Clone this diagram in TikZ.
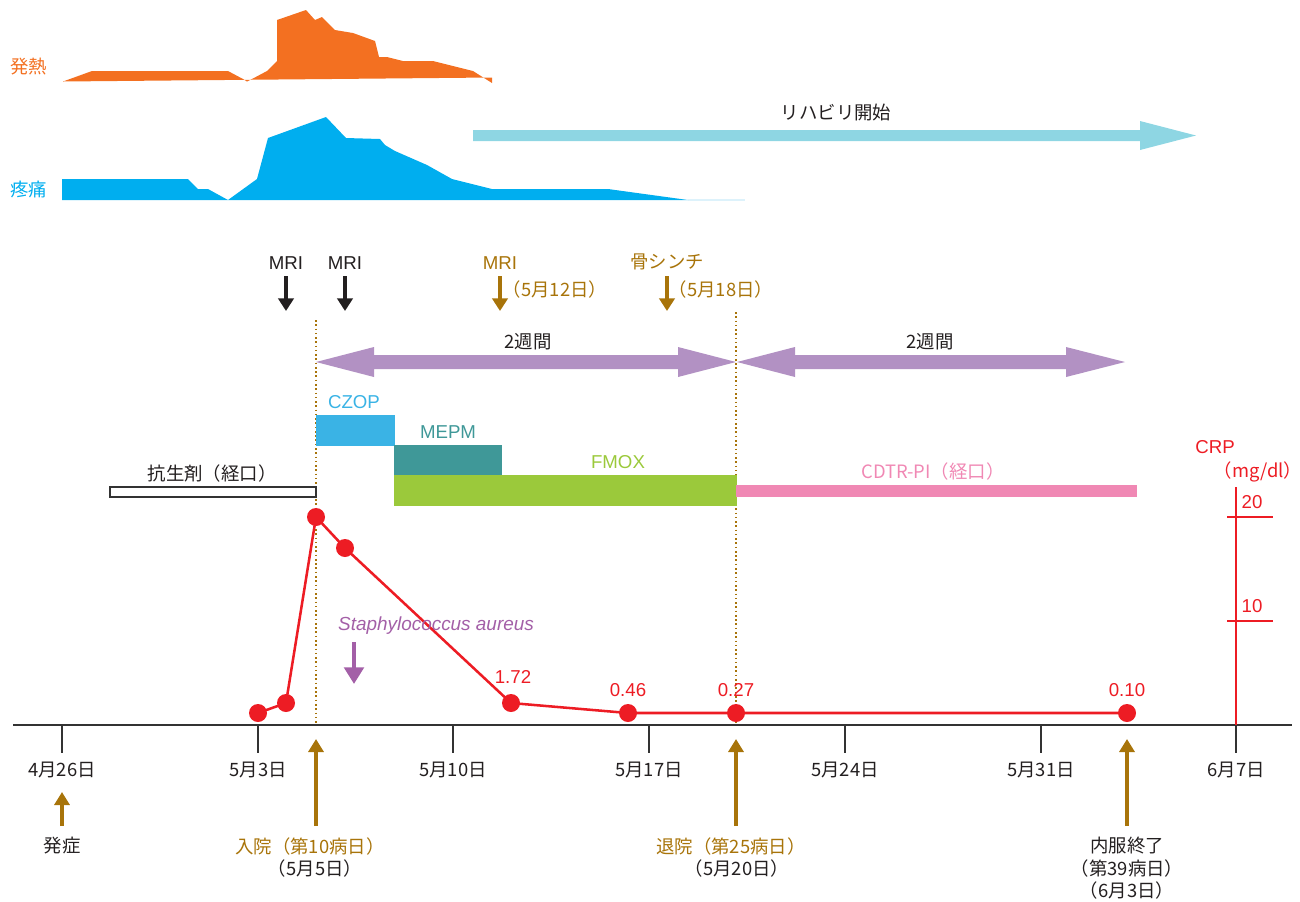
\documentclass[tikz,border=0pt]{standalone}
\usepackage{fontspec}
\setmainfont{Noto Sans CJK JP}
\newfontfamily\lat{Liberation Sans}
\usetikzlibrary{arrows.meta}
\definecolor{fever}{RGB}{243,112,33}
\definecolor{pain}{RGB}{0,174,239}
\definecolor{paintail}{RGB}{221,242,251}
\definecolor{rehab}{RGB}{142,214,227}
\definecolor{lav}{RGB}{178,145,195}
\definecolor{brn}{RGB}{168,116,10}
\definecolor{czop}{RGB}{58,179,229}
\definecolor{mepm}{RGB}{63,152,152}
\definecolor{fmox}{RGB}{155,201,59}
\definecolor{cdtr}{RGB}{240,136,180}
\definecolor{crp}{RGB}{237,28,36}
\definecolor{staph}{RGB}{163,95,167}
\definecolor{dark}{RGB}{35,31,32}
\definecolor{axisc}{RGB}{51,51,51}
\begin{document}
\begin{tikzpicture}[x=0.75pt,y=-0.75pt,
  txt/.style={inner sep=0pt, font=\fontsize{13.8}{16}\selectfont, text=dark},
  ltxt/.style={inner sep=0pt, font=\lat\fontsize{14}{16}\selectfont, text=dark},
  dot/.style={circle, fill=crp, minimum size=13.5pt, inner sep=0pt},
  downarr/.style={line width=3pt, -{Triangle[length=9.5pt,width=11.5pt]}},
  uparr/.style={line width=3.4pt, brn, -{Triangle[length=9.75pt,width=11.25pt]}},
  vline/.style={brn, line width=1.2pt, dotted},
]
\useasboundingbox (0,0) rectangle (1300,901);

% ---- fever curve
\fill[fever] (63,81.5) -- (92,71) -- (228,71) -- (243,79) -- (247,81.5) -- (252,79) -- (267,71) -- (277,61) -- (277,20) -- (306,10) -- (315,20) -- (322,17) -- (335,30) -- (353,33) -- (375,41) -- (379,57) -- (387,57) -- (403,61) -- (433,61) -- (473,71) -- (492,83) -- (492,77.5) -- cycle;
\node[txt, text=fever] (feverlab) at (29,67) {発熱};

% ---- pain curve
\fill[paintail] (688,198.5) rectangle (745,200.5);
\fill[pain] (62,179) -- (188,179) -- (198,189) -- (208,189) -- (228,200) -- (257,179) -- (268,138) -- (326,117) -- (346,138) -- (380,139) -- (385,145) -- (395,151) -- (427,165) -- (452,179) -- (492,189) -- (608,189) -- (688,200) -- (62,200) -- cycle;
\node[txt, text=pain] (painlab) at (29,189) {疼痛};

% ---- rehab arrow
\fill[rehab] (473,130) -- (1140,130) -- (1140,121) -- (1196,135.5) -- (1140,150) -- (1140,141) -- (473,141) -- cycle;
\node[txt] (rehablab) at (836,113) {リハビリ開始};

% ---- MRI / scintigraphy
\node[ltxt] (mri1) at (286,263) {MRI};
\node[ltxt] (mri2) at (345,263) {MRI};
\node[ltxt, text=brn] (mri3) at (500,263) {MRI};
\node[txt, text=brn] (scin) at (667,262) {骨シンチ};
\node[txt, text=brn] (d512) at (555,289) {（5月12日）};
\node[txt, text=brn] (d518) at (721,289) {（5月18日）};
\coordinate (m1a) at (286,276); \coordinate (m1b) at (286,311);
\coordinate (m2a) at (345,276); \coordinate (m2b) at (345,311);
\coordinate (m3a) at (500,276); \coordinate (m3b) at (500,311);
\coordinate (m4a) at (667,276); \coordinate (m4b) at (667,311);
\draw[downarr, dark] (m1a) -- (m1b);
\draw[downarr, dark] (m2a) -- (m2b);
\draw[downarr, brn] (m3a) -- (m3b);
\draw[downarr, brn] (m4a) -- (m4b);

% ---- dotted lines
\coordinate (v1t) at (316,320); \coordinate (v1b) at (316,725);
\coordinate (v2t) at (736,312); \coordinate (v2b) at (736,725);
\draw[vline] (v1t) -- (v1b);
\draw[vline] (v2t) -- (v2b);

% ---- two-week arrows
\fill[lav] (316,362) -- (374,347) -- (374,355) -- (678,355) -- (678,347) -- (736,362) -- (678,377) -- (678,369) -- (374,369) -- (374,377) -- cycle;
\fill[lav] (737,362) -- (795,347) -- (795,355) -- (1066,355) -- (1066,347) -- (1125,362) -- (1066,377) -- (1066,369) -- (795,369) -- (795,377) -- cycle;
\node[txt] (wk1) at (528,342) {2週間};
\node[txt] (wk2) at (930,342) {2週間};

% ---- drug bars
\fill[czop] (316,415) rectangle (395,446);
\fill[mepm] (394,445) rectangle (502,475);
\fill[fmox] (394,475) rectangle (737,506);
\fill[cdtr] (736,485) rectangle (1137,497);
\draw[draw=axisc, fill=white, line width=0.8pt] (110,487) rectangle (316,497);
\node[ltxt, text=czop] (czoplab) at (354,402) {CZOP};
\node[ltxt, text=mepm] (mepmlab) at (448,432) {MEPM};
\node[ltxt, text=fmox] (fmoxlab) at (618,462) {FMOX};
\node[txt, text=cdtr] (cdtrlab) at (933,471) {CDTR-PI（経口）};
\node[txt] (orallab) at (212,473) {抗生剤（経口）};

% ---- axis
\coordinate (ax0) at (13,725); \coordinate (ax1) at (1292,725);
\draw[axisc, line width=1.5pt] (ax0) -- (ax1);
\foreach \x/\lab/\n in {62/4月26日/a, 258/5月3日/b, 453/5月10日/c, 649/5月17日/d, 845/5月24日/e, 1041/5月31日/f, 1236/6月7日/g}{
  \coordinate (t\n a) at (\x,725); \coordinate (t\n b) at (\x,753);
  \draw[axisc, line width=1.5pt] (t\n a) -- (t\n b);
  \node[txt] (date\n) at (\x,770) {\lab};
}

% ---- CRP axis
\coordinate (cat) at (1236,487); \coordinate (cab) at (1236,725);
\draw[crp, line width=1.8pt] (cat) -- (cab);
\coordinate (k20a) at (1227,517); \coordinate (k20b) at (1273,517);
\coordinate (k10a) at (1227,621); \coordinate (k10b) at (1273,621);
\draw[crp, line width=1.3pt] (k20a) -- (k20b);
\draw[crp, line width=1.3pt] (k10a) -- (k10b);
\node[ltxt, text=crp] (crplab) at (1215,447) {CRP};
\node[txt, text=crp] (unitlab) at (1258,472) {（mg/dl）};
\node[ltxt, text=crp] (l20) at (1252,502) {20};
\node[ltxt, text=crp] (l10) at (1252,606) {10};

% ---- CRP data
\coordinate (p1) at (258,713);
\coordinate (p2) at (286,703);
\coordinate (p3) at (316,517);
\coordinate (p4) at (345,548);
\coordinate (p5) at (511,703);
\coordinate (p6) at (628,713);
\coordinate (p7) at (736,713);
\coordinate (p8) at (1127,713);
\draw[crp, line width=1.9pt, line join=round] (p1) -- (p2) -- (p3) -- (p4) -- (p5) -- (p6) -- (p7) -- (p8);
\foreach \i in {1,...,8}{ \node[dot] (c\i) at (p\i) {}; }
\node[ltxt, text=crp] (v172) at (513,677) {1.72};
\node[ltxt, text=crp] (v046) at (628,690) {0.46};
\node[ltxt, text=crp] (v027) at (736,690) {0.27};
\node[ltxt, text=crp] (v010) at (1127,690) {0.10};

% ---- Staphylococcus
\node[inner sep=0pt, font=\lat\itshape\fontsize{14.2}{16}\selectfont, text=staph] (staphlab) at (436,626) {Staphylococcus aureus};
\coordinate (sa) at (354,642); \coordinate (sb) at (354,684);
\draw[staph, line width=3.5pt, -{Triangle[length=12.5pt,width=14.5pt]}] (sa) -- (sb);

% ---- events
\coordinate (e1a) at (62,826); \coordinate (e1b) at (62,792);
\coordinate (e2a) at (316,826); \coordinate (e2b) at (316,739);
\coordinate (e3a) at (736,826); \coordinate (e3b) at (736,739);
\coordinate (e4a) at (1127,826); \coordinate (e4b) at (1127,739);
\draw[uparr] (e1a) -- (e1b);
\draw[uparr] (e2a) -- (e2b);
\draw[uparr] (e3a) -- (e3b);
\draw[uparr] (e4a) -- (e4b);
\node[txt] (onset) at (62,846) {発症};
\node[txt, text=brn] (admit) at (310,846) {入院（第10病日）};
\node[txt] (admitd) at (315,868) {（5月5日）};
\node[txt, text=brn] (disch) at (731,846) {退院（第25病日）};
\node[txt] (dischd) at (737,868) {（5月20日）};
\node[txt] (endrx) at (1127,846) {内服終了};
\node[txt] (endrxa) at (1127,868) {（第39病日）};
\node[txt] (endrxb) at (1127,890) {（6月3日）};
\end{tikzpicture}
\end{document}
